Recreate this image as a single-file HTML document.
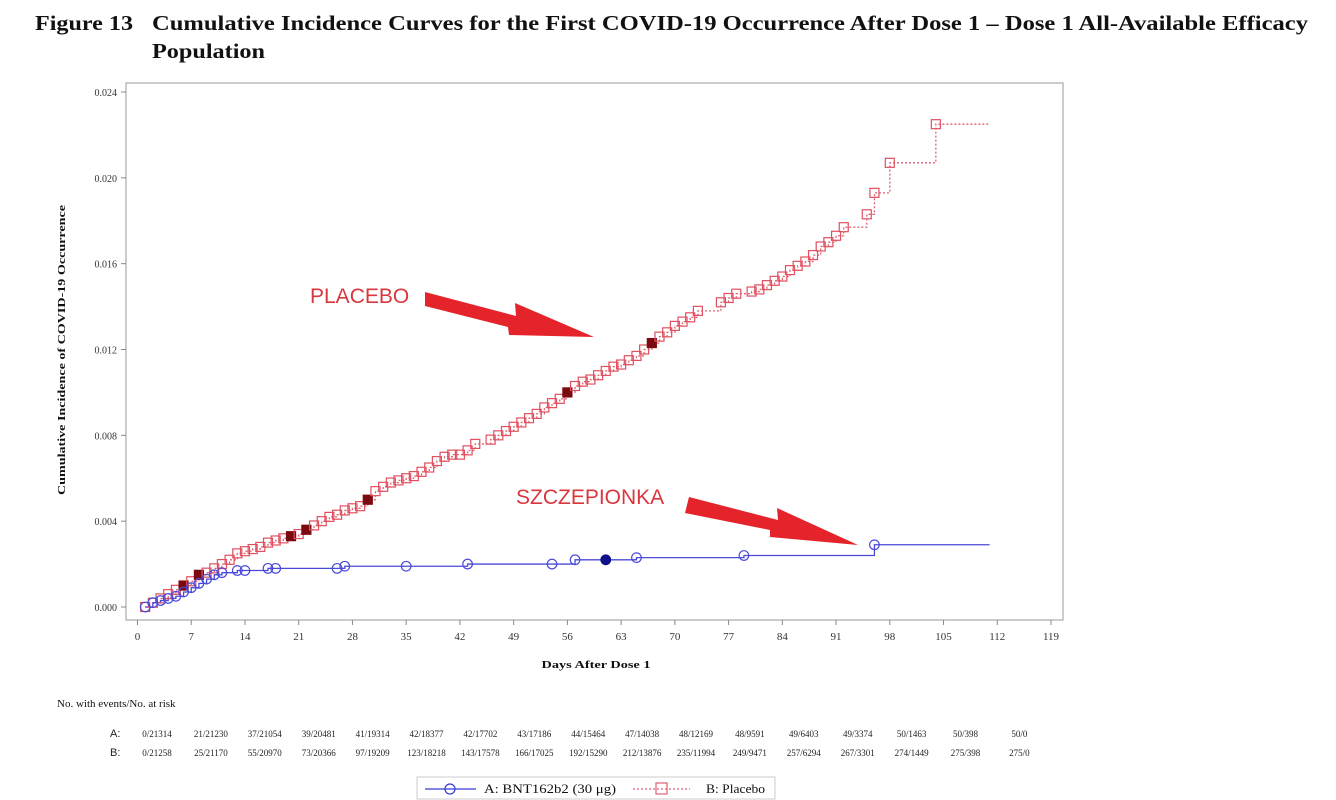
<!DOCTYPE html>
<html><head><meta charset="utf-8"><style>
html,body{margin:0;padding:0;background:#fff;width:1336px;height:800px;overflow:hidden}
svg{display:block}
.serif{font-family:"Liberation Serif",serif}
.sans{font-family:"Liberation Sans",sans-serif}
</style></head><body>
<svg id="chart" width="1336" height="800" viewBox="0 0 1336 800">
<text class="serif" x="35" y="30" font-size="21" font-weight="bold" fill="#111" textLength="98" lengthAdjust="spacingAndGlyphs">Figure 13</text>
<text class="serif" x="152" y="30" font-size="21" font-weight="bold" fill="#111" textLength="1156" lengthAdjust="spacingAndGlyphs">Cumulative Incidence Curves for the First COVID-19 Occurrence After Dose 1 – Dose 1 All-Available Efficacy</text>
<text class="serif" x="152" y="58" font-size="21" font-weight="bold" fill="#111" textLength="113" lengthAdjust="spacingAndGlyphs">Population</text>
<rect x="126" y="83" width="937" height="537" fill="none" stroke="#bbb" stroke-width="1.5"/>
<g id="yaxis"></g>
<g id="xaxis"></g>
<text class="serif" transform="translate(65,350) rotate(-90)" text-anchor="middle" font-size="11" font-weight="bold" fill="#111" textLength="290" lengthAdjust="spacingAndGlyphs">Cumulative Incidence of COVID-19 Occurrence</text>
<text class="serif" x="596" y="668" text-anchor="middle" font-size="11" font-weight="bold" fill="#111" textLength="109" lengthAdjust="spacingAndGlyphs">Days After Dose 1</text>
<g id="series"></g>
<text class="sans" x="310" y="303" font-size="21" fill="#d9363e">PLACEBO</text>
<polygon points="425,292 516,316 515,303 594,337 509,335 508,327 425,306" fill="#e5232b"/>
<text class="sans" x="516" y="504" font-size="21" fill="#d9363e">SZCZEPIONKA</text>
<polygon points="689,497 778,520 777,508 858,545 770,537 770,530 685,513" fill="#e5232b"/>
<text class="serif" x="57" y="707" font-size="11" fill="#111">No. with events/No. at risk</text>
<text class="sans" x="110" y="737" font-size="11" fill="#222">A:</text>
<text class="sans" x="110" y="756" font-size="11" fill="#222">B:</text>
<g id="risk"></g>
<g>
<rect x="417" y="777" width="358" height="22" fill="#fff" stroke="#ccc"/>
<g>
<line x1="425" y1="789" x2="476" y2="789" stroke="#3b3bd6" stroke-width="1.2"/>
<circle cx="450" cy="789" r="5" fill="none" stroke="#3b3bd6" stroke-width="1.2"/>
<text class="serif" x="484" y="793" font-size="13" fill="#111" textLength="132" lengthAdjust="spacingAndGlyphs">A: BNT162b2 (30 μg)</text>
</g>
<g>
<line x1="633" y1="789" x2="690" y2="789" stroke="#e06070" stroke-width="1.2" stroke-dasharray="2,2"/>
<rect x="656" y="783" width="11" height="11" fill="none" stroke="#e06070" stroke-width="1.2"/>
<text class="serif" x="706" y="793" font-size="13" fill="#111" textLength="59" lengthAdjust="spacingAndGlyphs">B: Placebo</text>
</g>
</g>
</svg>
<script>
const yTicks=[0,0.004,0.008,0.012,0.016,0.020,0.024];
const yTickLabels=["0.000","0.004","0.008","0.012","0.016","0.020","0.024"];
const xTicks=[0,7,14,21,28,35,42,49,56,63,70,77,84,91,98,105,112,119];
const placeboDays=[1,2,3,4,5,6,7,8,9,10,11,12,13,14,15,16,17,18,19,20,21,22,23,24,25,26,27,28,29,30,31,32,33,34,35,36,37,38,39,40,41,42,43,44,46,47,48,49,50,51,52,53,54,55,56,57,58,59,60,61,62,63,64,65,66,67,68,69,70,71,72,73,76,77,78,80,81,82,83,84,85,86,87,88,89,90,91,92,95,96,98,104];
const placeboValues=[0,0.0002,0.0004,0.0006,0.0008,0.001,0.0012,0.0015,0.0016,0.0018,0.002,0.0022,0.0025,0.0026,0.0027,0.0028,0.003,0.0031,0.0032,0.0033,0.0034,0.0036,0.0038,0.004,0.0042,0.0043,0.0045,0.0046,0.0047,0.005,0.0054,0.0056,0.0058,0.0059,0.006,0.0061,0.0063,0.0065,0.0068,0.007,0.0071,0.0071,0.0073,0.0076,0.0078,0.008,0.0082,0.0084,0.0086,0.0088,0.009,0.0093,0.0095,0.0097,0.01,0.0103,0.0105,0.0106,0.0108,0.011,0.0112,0.0113,0.0115,0.0117,0.012,0.0123,0.0126,0.0128,0.0131,0.0133,0.0135,0.0138,0.0142,0.0144,0.0146,0.0147,0.0148,0.015,0.0152,0.0154,0.0157,0.0159,0.0161,0.0164,0.0168,0.017,0.0173,0.0177,0.0183,0.0193,0.0207,0.0225];
const placeboFilled=[6,8,20,22,30,56,67];
const placeboEnd=111;
const vaccineDays=[1,2,3,4,5,6,7,8,9,10,11,13,14,17,18,26,27,35,43,54,57,61,65,79,96];
const vaccineValues=[0,0.0002,0.0003,0.0004,0.0005,0.0007,0.0009,0.0011,0.0013,0.0015,0.0016,0.0017,0.0017,0.0018,0.0018,0.0018,0.0019,0.0019,0.002,0.002,0.0022,0.0022,0.0023,0.0024,0.0029];
const vaccineFilled=[61];
const vaccineEnd=111;
const riskA=["0/21314","21/21230","37/21054","39/20481","41/19314","42/18377","42/17702","43/17186","44/15464","47/14038","48/12169","48/9591","49/6403","49/3374","50/1463","50/398","50/0"];
const riskB=["0/21258","25/21170","55/20970","73/20366","97/19209","123/18218","143/17578","166/17025","192/15290","212/13876","235/11994","249/9471","257/6294","267/3301","274/1449","275/398","275/0"];

const NS="http://www.w3.org/2000/svg";
const X=d=>137.5+d*(1051-137.5)/119;
const Y=v=>607-v*(607-92)/0.024;
function mk(tag,attrs,parent){const e=document.createElementNS(NS,tag);for(const k in attrs)e.setAttribute(k,attrs[k]);parent.appendChild(e);return e;}
const yax=document.getElementById('yaxis'),xax=document.getElementById('xaxis'),ser=document.getElementById('series'),risk=document.getElementById('risk');
yTicks.forEach((v,i)=>{
  const l=mk('line',{x1:121,x2:126,y1:Y(v),y2:Y(v),stroke:'#888'},yax);
  
  
  const t=mk('text',{x:117,y:Y(v)+4,'text-anchor':'end','font-size':10,'font-family':'Liberation Serif, serif',fill:'#333'},yax);
  t.textContent=yTickLabels[i];
  
  
});
xTicks.forEach(d=>{
  const l=mk('line',{x1:X(d),x2:X(d),y1:620,y2:625,stroke:'#888'},xax);
  
  
  const t=mk('text',{x:X(d),y:640,'text-anchor':'middle','font-size':11,'font-family':'Liberation Serif, serif',fill:'#333'},xax);
  t.textContent=String(d);
  
  
});
function stepPath(days,vals,end){
  let p='M'+X(days[0])+','+Y(vals[0]);
  for(let i=1;i<days.length;i++){p+=' H'+X(days[i])+' V'+Y(vals[i]);}
  p+=' H'+X(end);return p;
}
const pl=mk('path',{d:stepPath(placeboDays,placeboValues,placeboEnd),fill:'none',stroke:'#e06070','stroke-width':1.3,'stroke-dasharray':'2,2'},ser);


const vl=mk('path',{d:stepPath(vaccineDays,vaccineValues,vaccineEnd),fill:'none',stroke:'#4a4ad8','stroke-width':1.3},ser);


placeboDays.forEach((d,i)=>{
  const f=placeboFilled.includes(d);
  const r=mk('rect',{x:X(d)-4.5,y:Y(placeboValues[i])-4.5,width:9,height:9,fill:f?'#7a0a10':'none',stroke:f?'#7a0a10':'#e05060','stroke-width':1.2},ser);
  
  
});
vaccineDays.forEach((d,i)=>{
  const f=vaccineFilled.includes(d);
  const c=mk('circle',{cx:X(d),cy:Y(vaccineValues[i]),r:4.8,fill:f?'#10108a':'none',stroke:f?'#10108a':'#4a4ad8','stroke-width':1.2},ser);
  
  
});
riskA.forEach((s,i)=>{
  const t=mk('text',{x:157+53.9*i,y:737,'text-anchor':'middle','font-size':9,'font-family':'Liberation Serif, serif',fill:'#222'},risk);
  t.textContent=s;
  
  
});
riskB.forEach((s,i)=>{
  const t=mk('text',{x:157+53.9*i,y:756,'text-anchor':'middle','font-size':9,'font-family':'Liberation Serif, serif',fill:'#222'},risk);
  t.textContent=s;
  
  
});
</script>
</body></html>
